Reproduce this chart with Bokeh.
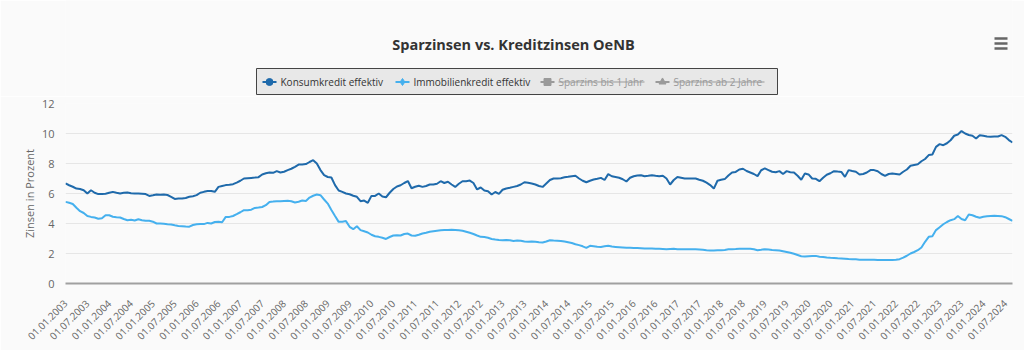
from bokeh.plotting import figure
from bokeh.models import Range1d, FixedTicker
from bokeh.layouts import column
from bokeh.embed import file_html
from bokeh.resources import INLINE
from bokeh.core.properties import value
import math

# ---------------- data ----------------
title_text = "Sparzinsen vs. Kreditzinsen OeNB"
series_names = ["Konsumkredit effektiv", "Immobilienkredit effektiv",
                "Sparzins bis 1 Jahr", "Sparzins ab 2 Jahre"]
y_axis_title = "Zinsen in Prozent"
y_ticks = [0, 2, 4, 6, 8, 10, 12]

# monthly values Jan 2003 .. Sep 2024
konsumkredit = [
    6.67, 6.55, 6.45, 6.33, 6.30, 6.22, 6.00, 6.22, 6.05, 5.96, 5.96, 5.98,   # 2003
    6.05, 6.11, 6.05, 6.00, 6.05, 6.07, 6.02, 6.00, 6.00, 5.98, 5.96, 5.84,   # 2004
    5.88, 5.93, 5.92, 5.93, 5.90, 5.78, 5.64, 5.66, 5.67, 5.70, 5.78, 5.82,   # 2005
    5.89, 6.05, 6.11, 6.16, 6.16, 6.11, 6.44, 6.50, 6.56, 6.58, 6.62, 6.73,   # 2006
    6.85, 7.00, 7.02, 7.04, 7.06, 7.09, 7.27, 7.35, 7.40, 7.38, 7.49, 7.40,   # 2007
    7.45, 7.56, 7.65, 7.78, 7.93, 7.94, 7.96, 8.10, 8.22, 8.00, 7.56, 7.22,   # 2008
    7.10, 7.07, 6.56, 6.20, 6.11, 6.00, 5.95, 5.85, 5.78, 5.49, 5.53, 5.38,   # 2009
    5.84, 5.84, 6.00, 5.80, 5.75, 6.05, 6.30, 6.47, 6.55, 6.70, 6.83, 6.35,   # 2010
    6.45, 6.52, 6.44, 6.50, 6.60, 6.60, 6.65, 6.82, 6.70, 6.78, 6.60, 6.44,   # 2011
    6.65, 6.82, 6.82, 6.86, 6.70, 6.27, 6.40, 6.20, 6.15, 5.93, 6.10, 5.98,   # 2012
    6.25, 6.33, 6.38, 6.44, 6.50, 6.60, 6.75, 6.72, 6.67, 6.60, 6.50, 6.44,   # 2013
    6.67, 6.90, 7.00, 7.00, 7.02, 7.08, 7.11, 7.15, 7.18, 7.00, 6.85, 6.75,   # 2014
    6.85, 6.93, 6.98, 7.04, 6.90, 7.29, 7.15, 7.10, 7.05, 6.95, 6.80, 7.05,   # 2015
    7.15, 7.20, 7.22, 7.15, 7.18, 7.22, 7.18, 7.15, 7.18, 7.00, 6.60, 6.90,   # 2016
    7.10, 7.05, 7.00, 7.00, 7.00, 7.00, 6.92, 6.85, 6.72, 6.56, 6.33, 6.85,   # 2017
    6.92, 6.96, 7.20, 7.40, 7.44, 7.60, 7.65, 7.50, 7.40, 7.30, 7.16, 7.55,   # 2018
    7.67, 7.56, 7.45, 7.42, 7.49, 7.30, 7.49, 7.42, 7.40, 7.18, 6.92, 7.33,   # 2019
    7.27, 7.00, 6.98, 6.82, 7.05, 7.25, 7.35, 7.49, 7.46, 7.44, 7.11, 7.56,   # 2020
    7.50, 7.45, 7.27, 7.30, 7.40, 7.56, 7.56, 7.48, 7.30, 7.18, 7.30, 7.33,   # 2021
    7.30, 7.27, 7.45, 7.60, 7.85, 7.90, 7.95, 8.15, 8.30, 8.56, 8.60, 9.11,   # 2022
    9.29, 9.22, 9.35, 9.55, 9.85, 9.93, 10.16, 10.00, 9.90, 9.85, 9.67, 9.89,  # 2023
    9.85, 9.80, 9.78, 9.80, 9.80, 9.89, 9.78, 9.56, 9.40,                    # 2024
]

immobilienkredit = [
    5.44, 5.38, 5.30, 5.05, 4.82, 4.70, 4.50, 4.44, 4.40, 4.32, 4.35, 4.55,   # 2003
    4.55, 4.45, 4.42, 4.40, 4.30, 4.22, 4.25, 4.20, 4.28, 4.22, 4.18, 4.18,   # 2004
    4.12, 4.00, 4.00, 3.98, 3.95, 3.93, 3.88, 3.84, 3.82, 3.80, 3.79, 3.90,   # 2005
    3.95, 3.96, 3.96, 4.04, 4.00, 4.10, 4.11, 4.08, 4.44, 4.44, 4.50, 4.62,   # 2006
    4.75, 4.89, 4.88, 4.92, 5.04, 5.06, 5.10, 5.22, 5.44, 5.46, 5.49, 5.49,   # 2007
    5.50, 5.51, 5.48, 5.40, 5.45, 5.53, 5.50, 5.73, 5.85, 5.93, 5.89, 5.60,   # 2008
    5.33, 4.90, 4.50, 4.11, 4.12, 4.16, 3.78, 3.62, 3.82, 3.56, 3.48, 3.40,   # 2009
    3.25, 3.15, 3.11, 3.05, 2.97, 3.10, 3.20, 3.22, 3.20, 3.30, 3.33, 3.20,   # 2010
    3.18, 3.25, 3.33, 3.38, 3.45, 3.49, 3.52, 3.55, 3.56, 3.57, 3.58, 3.57,   # 2011
    3.55, 3.52, 3.45, 3.38, 3.30, 3.20, 3.11, 3.10, 3.05, 2.97, 2.93, 2.90,   # 2012
    2.89, 2.90, 2.88, 2.84, 2.86, 2.85, 2.80, 2.78, 2.80, 2.78, 2.75, 2.73,   # 2013
    2.80, 2.88, 2.86, 2.85, 2.84, 2.80, 2.75, 2.70, 2.62, 2.56, 2.48, 2.38,   # 2014
    2.51, 2.48, 2.45, 2.44, 2.48, 2.51, 2.46, 2.44, 2.42, 2.40, 2.38, 2.38,   # 2015
    2.37, 2.36, 2.35, 2.33, 2.33, 2.33, 2.32, 2.31, 2.30, 2.29, 2.30, 2.31,   # 2016
    2.29, 2.29, 2.29, 2.29, 2.28, 2.28, 2.27, 2.25, 2.22, 2.20, 2.20, 2.21,   # 2017
    2.22, 2.24, 2.28, 2.29, 2.30, 2.32, 2.32, 2.31, 2.31, 2.28, 2.22, 2.25,   # 2018
    2.29, 2.27, 2.24, 2.22, 2.20, 2.15, 2.10, 2.05, 1.98, 1.90, 1.82, 1.80,   # 2019
    1.82, 1.83, 1.84, 1.78, 1.76, 1.73, 1.71, 1.70, 1.68, 1.67, 1.65, 1.63,   # 2020
    1.62, 1.61, 1.59, 1.58, 1.58, 1.58, 1.58, 1.57, 1.57, 1.56, 1.56, 1.56,   # 2021
    1.58, 1.62, 1.72, 1.85, 2.00, 2.10, 2.22, 2.40, 2.78, 3.11, 3.15, 3.56,   # 2022
    3.75, 3.95, 4.10, 4.22, 4.29, 4.50, 4.30, 4.22, 4.60, 4.55, 4.45, 4.38,   # 2023
    4.45, 4.49, 4.50, 4.51, 4.50, 4.49, 4.42, 4.30, 4.18,                    # 2024
]

months = list(range(len(konsumkredit)))
first_year = 2003
tick_positions = list(range(0, len(months), 6))
tick_labels = ["01.%s.%d" % ("01" if (m // 6) % 2 == 0 else "07", first_year + m // 12)
               for m in tick_positions]

# ---------------- style ----------------
BG = "#fafafa"
FONT = "Open Sans"
C_KONSUM = "#1f6aab"
C_IMMO = "#45b0ee"
C_HIDDEN = "#9a9a9a"
LEFT, RIGHT = 65, 12

# ---------------- header (title + legend) ----------------
HH = 96
h = figure(width=1024, height=HH, x_range=Range1d(LEFT, 1024 - RIGHT), y_range=Range1d(HH, 0),
           output_backend="svg", toolbar_location=None,
           min_border_left=LEFT, min_border_right=RIGHT, min_border_top=0, min_border_bottom=0,
           background_fill_color=BG, border_fill_color=BG, outline_line_color=None)
h.axis.visible = False
h.grid.visible = False

h.text(x=[513], y=[44], text=[title_text], text_font=value(FONT), text_font_size="14.5px",
       text_font_style="bold", text_color="#333333", text_align="center", text_baseline="middle")

# hamburger menu icon
h.segment(x0=[994, 994, 994], y0=[38, 43, 48], x1=[1007, 1007, 1007], y1=[38, 43, 48],
          line_color="#666666", line_width=2.5)

# legend box
h.quad(left=[256], right=[777], top=[68], bottom=[94], fill_color="#e8e8e8",
       line_color="#444444", line_width=1)

ly = 81.5
item_x = [262, 395, 540, 655]
item_colors = [C_KONSUM, C_IMMO, C_HIDDEN, C_HIDDEN]
item_markers = ["circle", "diamond", "square", "triangle"]
text_colors = ["#333333", "#333333", "#999999", "#999999"]
for x0, col, mk, tc, name in zip(item_x, item_colors, item_markers, text_colors, series_names):
    h.segment(x0=[x0], y0=[ly], x1=[x0 + 14], y1=[ly], line_color=col, line_width=2)
    h.scatter(x=[x0 + 7], y=[ly], marker=mk, size=7, fill_color=col, line_color=col)
    h.text(x=[x0 + 18], y=[ly], text=[name], text_font=value(FONT), text_font_size="10px",
           text_color=tc, text_align="left", text_baseline="middle")
# strike-through for hidden series
h.segment(x0=[558, 673], y0=[ly, ly], x1=[644, 764], y1=[ly, ly], line_color="#999999", line_width=1)

# ---------------- main chart ----------------
p = figure(width=1024, height=350 - HH, x_range=Range1d(0, len(months) - 1), y_range=Range1d(0, 12),
           output_backend="svg", toolbar_location=None,
           min_border_left=LEFT, min_border_right=RIGHT, min_border_top=103 - HH, min_border_bottom=67,
           background_fill_color=BG, border_fill_color=BG, outline_line_color=None)

p.line(months, konsumkredit, line_color=C_KONSUM, line_width=2)
p.line(months, immobilienkredit, line_color=C_IMMO, line_width=2)

p.xgrid.visible = False
p.ygrid.grid_line_color = "#e6e6e6"
p.ygrid.ticker = FixedTicker(ticks=y_ticks)

p.yaxis.ticker = FixedTicker(ticks=y_ticks)
p.yaxis.axis_line_color = None
p.yaxis.major_tick_line_color = None
p.yaxis.major_tick_out = 0
p.yaxis.minor_tick_line_color = None
p.yaxis.major_label_standoff = 11
p.yaxis.major_label_text_font = FONT
p.yaxis.major_label_text_font_size = "11px"
p.yaxis.major_label_text_color = "#666666"
p.yaxis.axis_label = y_axis_title
p.yaxis.axis_label_standoff = 2
p.yaxis.axis_label_text_font = FONT
p.yaxis.axis_label_text_font_size = "11px"
p.yaxis.axis_label_text_font_style = "normal"
p.yaxis.axis_label_text_color = "#666666"

p.xaxis.ticker = FixedTicker(ticks=tick_positions)
p.xaxis.major_label_overrides = {m: lab for m, lab in zip(tick_positions, tick_labels)}
p.xaxis.major_label_orientation = math.pi / 4
p.xaxis.major_tick_out = 0
p.xaxis.major_label_standoff = 18
p.xaxis.major_label_text_font = FONT
p.xaxis.major_label_text_font_size = "10px"
p.xaxis.major_label_text_color = "#666666"
p.xaxis.axis_line_color = "#a0a0a0"
p.xaxis.axis_line_width = 2
p.xaxis.major_tick_line_color = None
p.xaxis.minor_tick_line_color = None

layout = column(h, p, spacing=0)
open("out.html", "w").write(file_html(layout, INLINE))
